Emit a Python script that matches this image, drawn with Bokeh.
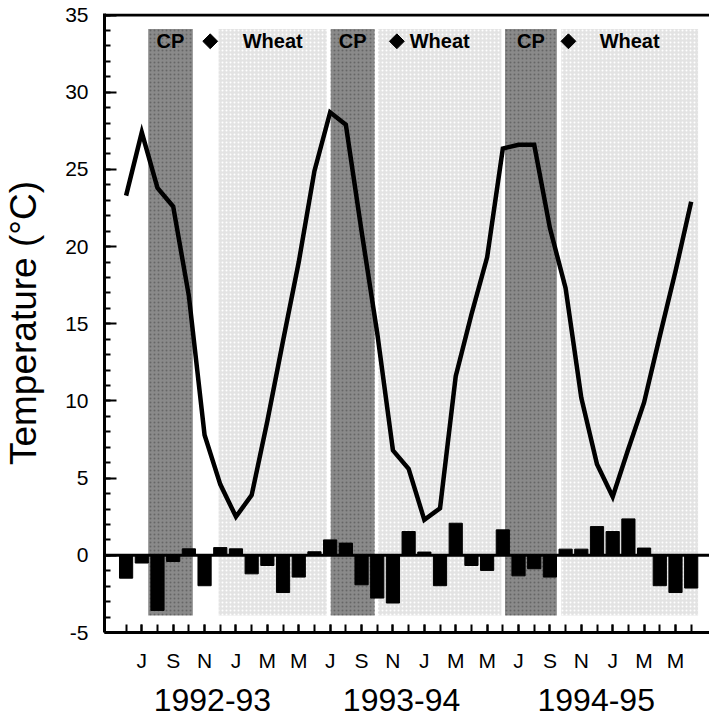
import math
from bokeh.plotting import figure
from bokeh.models import Range1d, LinearAxis, FixedTicker, Span
from bokeh.core.properties import value
from bokeh.embed import file_html
from bokeh.resources import INLINE

# ---- data (month index: 0 = Jun 1992 ... 36 = Jun 1995) ----
months = list(range(37))
temperature = [23.3, 27.4, 23.8, 22.6, 16.8, 7.8, 4.6, 2.5, 3.9, 8.7, 13.9, 19.0,
               24.9, 28.7, 27.9, 21.0, 14.4, 6.8, 5.6, 2.3, 3.05, 11.6, 15.6, 19.3,
               26.35, 26.6, 26.6, 21.2, 17.3, 10.2, 5.9, 3.8, 6.9, 9.9, 14.2, 18.4, 22.9]
anomaly = [-1.48, -0.5, -3.57, -0.4, 0.42, -1.97, 0.5, 0.42, -1.2, -0.66, -2.41, -1.41,
           0.23, 1.0, 0.79, -1.91, -2.77, -3.09, 1.54, 0.21, -1.97, 2.08, -0.66, -0.98,
           1.65, -1.33, -0.87, -1.41, 0.4, 0.4, 1.86, 1.54, 2.36, 0.47, -1.97, -2.41, -2.12]
y_ticks = list(range(-5, 36, 5))
y_tick_labels = ["-5", "0", "5", "10", "15", "20", "25", "30", "35"]
tick_pos = list(range(1, 36, 2))
tick_labels = ["J", "S", "N", "J", "M", "M"] * 3
season_labels = ["1992-93", "1993-94", "1994-95"]
season_pos = [5.5, 17.55, 29.95]
cp_start = [1.41, 13.04, 24.14]
cp_end = [4.25, 15.83, 27.44]
wheat_start = [5.89, 16.05, 27.72]
wheat_end = [12.79, 23.91, 36.44]
sowing = [5.36, 17.25, 28.18]
band_bottom = -3.9
band_top = 34.1
label_level = 33.3

FONT = "Liberation Sans"

x_start = -1.375
px_per_month = 15.853
frame_w = 709 - 98
x_end = x_start + frame_w / px_per_month

p = figure(width=709, height=718, output_backend="svg", toolbar_location=None,
           x_range=Range1d(x_start, x_end), y_range=Range1d(-5, 35.1),
           min_border_left=98, min_border_right=0, min_border_top=13, min_border_bottom=86,
           x_axis_type=None, y_axis_type=None)
p.outline_line_color = None
p.xgrid.visible = False
p.ygrid.visible = False
p.background_fill_color = "white"

# shaded periods
p.quad(left=cp_start, right=cp_end, bottom=band_bottom, top=band_top,
       fill_color="#8a8a8a", line_color=None,
       hatch_pattern="dot", hatch_color="#666666", hatch_scale=4, hatch_weight=0.8)
p.quad(left=wheat_start, right=wheat_end, bottom=band_bottom, top=band_top,
       fill_color="#e3e3e3", line_color=None,
       hatch_pattern="dot", hatch_color="#ffffff", hatch_scale=4, hatch_weight=0.8)

# anomaly bars
p.vbar(x=months, top=anomaly, bottom=0, width=0.84, fill_color="black", line_color="black")
p.add_layout(Span(location=0, dimension="width", line_color="black", line_width=3))

# top frame line
p.add_layout(Span(location=35, dimension="width", line_color="black", line_width=3))

# temperature line
p.line(months, temperature, line_width=4.5, line_color="black", line_join="miter")

# period labels
cp_mid = [(a + b) / 2 for a, b in zip(cp_start, cp_end)]
wheat_mid = [(a + b) / 2 for a, b in zip(wheat_start, wheat_end)]
p.text(x=cp_mid, y=[label_level] * 3, text=["CP"] * 3, text_align="center",
       text_baseline="middle", text_font=value(FONT), text_font_style="bold",
       text_font_size="20px", text_color="black")
p.text(x=wheat_mid, y=[label_level] * 3, text=["Wheat"] * 3, text_align="center",
       text_baseline="middle", text_font=value(FONT), text_font_style="bold",
       text_font_size="20px", text_color="black")
p.scatter(sowing, [label_level] * 3, marker="square", angle=math.pi / 4, size=10.5,
          fill_color="black", line_color="black")

# y axis
yax = LinearAxis(ticker=FixedTicker(ticks=y_ticks, minor_ticks=list(range(-5, 36))))
yax.major_label_overrides = {t: l for t, l in zip(y_ticks, y_tick_labels)}
yax.axis_label = "Temperature (°C)"
yax.axis_label_text_font = FONT
yax.axis_label_text_font_size = "37px"
yax.axis_label_text_font_style = "normal"
yax.axis_label_text_color = "black"
yax.axis_label_standoff = 18
yax.major_label_text_font = FONT
yax.major_label_text_font_size = "21px"
yax.major_label_text_color = "black"
yax.major_label_standoff = 16
yax.axis_line_width = 3
yax.major_tick_in = 12
yax.major_tick_out = 0
yax.minor_tick_in = 6
yax.minor_tick_out = 0
yax.major_tick_line_width = 2
yax.minor_tick_line_width = 2
p.add_layout(yax, "left")

# x axis (months)
xax = LinearAxis(ticker=FixedTicker(ticks=tick_pos, minor_ticks=months))
xax.major_label_overrides = {t: l for t, l in zip(tick_pos, tick_labels)}
xax.major_label_text_font = FONT
xax.major_label_text_font_size = "21px"
xax.major_label_text_color = "black"
xax.major_label_standoff = 16
xax.axis_line_width = 3
xax.major_tick_in = 8
xax.major_tick_out = 0
xax.minor_tick_in = 8
xax.minor_tick_out = 0
xax.major_tick_line_width = 2
xax.minor_tick_line_width = 2
p.add_layout(xax, "below")

# season labels axis
sax = LinearAxis(ticker=FixedTicker(ticks=season_pos, minor_ticks=[]))
sax.major_label_overrides = {t: l for t, l in zip(season_pos, season_labels)}
sax.major_label_text_font = FONT
sax.major_label_text_font_size = "32px"
sax.major_label_text_color = "black"
sax.major_label_standoff = 14
sax.axis_line_color = None
sax.major_tick_line_color = None
sax.minor_tick_line_color = None
sax.major_tick_in = 0
sax.major_tick_out = 0
p.add_layout(sax, "below")

open("out.html", "w").write(file_html(p, INLINE))
